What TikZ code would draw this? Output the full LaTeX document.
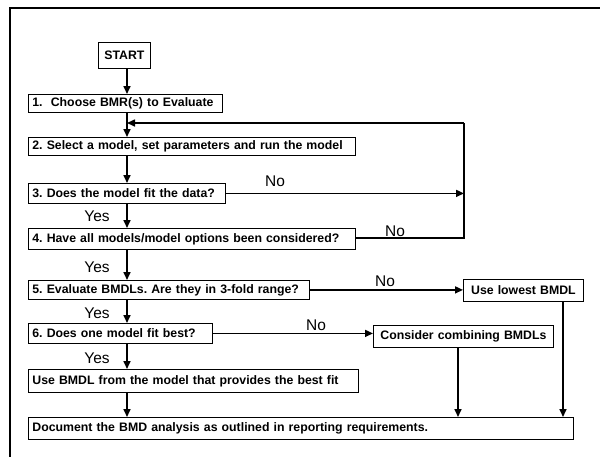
\documentclass[tikz,border=0pt]{standalone}
\usepackage{fontspec}
\setmainfont{Liberation Sans}
\usetikzlibrary{arrows.meta}
\begin{document}
\frenchspacing
\begin{tikzpicture}[x=1pt,y=-1pt,
  box/.style={draw, line width=0.8pt, anchor=north west, inner xsep=4pt, inner ysep=0pt,
    font=\bfseries\fontsize{12.3}{14}\selectfont, align=left},
  cbox/.style={box, align=center},
  arr/.style={line width=1.6pt, -{Triangle[length=8pt,width=7pt]}},
  ln/.style={line width=1.6pt},
  lbl/.style={font=\fontsize{15.5}{17}\selectfont, inner sep=0pt}]
\useasboundingbox (0,0) rectangle (600,456);
\fill[white] (0,0) rectangle (600,456);
% frame
\draw[line width=2.6pt] (10,458) -- (10,8) -- (602,8);
% boxes
\node[cbox, text width=44pt, minimum height=26pt] (start) at (98,42) {START};
\node[box, text width=186pt, minimum height=18pt] (b1) at (28,94) {1.\ \ Choose BMR(s) to Evaluate};
\node[box, text width=319pt, minimum height=18pt] (b2) at (28,137) {2. Select a model, set parameters and run the model};
\node[box, text width=189pt, minimum height=20pt] (b3) at (28,183) {3. Does the model fit the data?};
\node[box, text width=319pt, minimum height=21pt] (b4) at (28,228) {4. Have all models/model options been considered?};
\node[box, text width=273pt, minimum height=19pt] (b5) at (28,280) {5. Evaluate BMDLs. Are they in 3-fold range?};
\node[cbox, text width=112pt, minimum height=22pt] (low) at (463,279) {Use lowest BMDL};
\node[box, text width=176pt, minimum height=20pt] (b6) at (28,323) {6. Does one model fit best?};
\node[cbox, text width=172pt, minimum height=22pt] (comb) at (373,325) {Consider combining BMDLs};
\node[box, text width=322pt, minimum height=23pt] (b7) at (28,369) {Use BMDL from the model that provides the best fit};
\node[box, text width=537pt, minimum height=22pt] (b8) at (28,417) {Document the BMD analysis as outlined in reporting requirements.};
% helper coordinates
\coordinate (xm) at (127,0);
\coordinate (loopR) at (464,123);
\coordinate (loopIn) at (127,123);
\coordinate (xl) at (563,0);
\coordinate (xc) at (458,0);
% main column
\draw[arr] (start.south -| xm) -- (b1.north -| xm);
\draw[arr] (b1.south -| xm) -- (b2.north -| xm);
\draw[arr] (b2.south -| xm) -- (b3.north -| xm);
\draw[arr] (b3.south -| xm) -- (b4.north -| xm);
\draw[arr] (b4.south -| xm) -- (b5.north -| xm);
\draw[arr] (b5.south -| xm) -- (b6.north -| xm);
\draw[arr] (b6.south -| xm) -- (b7.north -| xm);
\draw[arr] (b7.south -| xm) -- (b8.north -| xm);
% loop
\draw[ln] (b4.east |- 0,238) -- (loopR |- 0,238) -- (loopR);
\draw[arr] (loopR) -- (loopIn);
\draw[arr] (b3.east) -- (loopR |- b3.east);
% branches
\draw[arr] (b5.east) -- (low.west |- b5.east);
\draw[arr] (b6.east) -- (comb.west |- b6.east);
\draw[arr] (low.south -| xl) -- (b8.north -| xl);
\draw[arr] (comb.south -| xc) -- (b8.north -| xc);
% labels
\node[lbl] at (275,181) {No};
\node[lbl] at (395,231) {No};
\node[lbl] at (385,281) {No};
\node[lbl] at (316,325) {No};
\node[lbl] at (97,216) {Yes};
\node[lbl] at (97,267) {Yes};
\node[lbl] at (97,313) {Yes};
\node[lbl] at (97,358) {Yes};
\end{tikzpicture}
\end{document}
